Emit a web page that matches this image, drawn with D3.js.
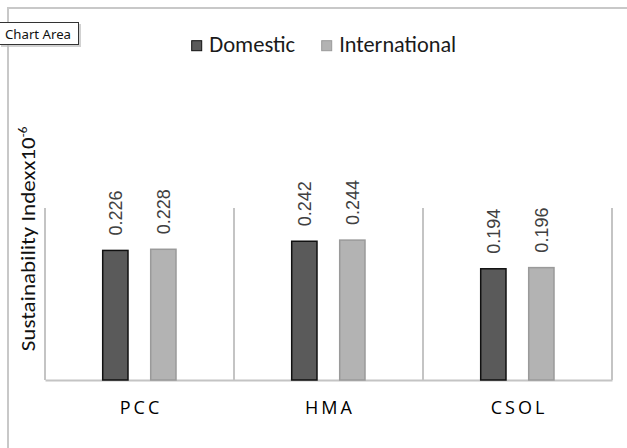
<!DOCTYPE html>
<html>
<head>
<meta charset="utf-8">
<script src="https://cdn.jsdelivr.net/npm/d3@7"></script>
<style>
  html, body { margin: 0; padding: 0; background: #fff; }
  svg { display: block; }
</style>
</head>
<body>
<svg id="chart" width="627" height="448"></svg>
<script>
// Sustainability index by process and market
const categories = ["PCC", "HMA", "CSOL"];
const series = ["Domestic", "International"];
const domesticValues = [0.226, 0.242, 0.194];
const internationalValues = [0.228, 0.244, 0.196];
const yDomain = [0, 0.3];

const seriesValues = { Domestic: domesticValues, International: internationalValues };
const fills = { Domestic: "#5a5a5a", International: "#b3b3b3" };
const strokes = { Domestic: "#111", International: "#9a9a9a" };

const W = 627, H = 448;
const plot = { left: 45, right: 612, top: 208, bottom: 380 };
const uiFont = "Carlito, Lato, 'Open Sans', sans-serif";

const svg = d3.select("#chart");
svg.append("rect").attr("width", W).attr("height", H).attr("fill", "#fff");

// chart area frame
svg.append("path")
  .attr("d", `M8,${H} V8 H${W}`)
  .attr("fill", "none").attr("stroke", "#c8c8c8").attr("stroke-width", 2);

const x = d3.scaleBand().domain(categories).range([plot.left, plot.right]).padding(0);
const xInner = d3.scaleBand().domain(series)
  .range([57.7, 131]).paddingInner(0.473).paddingOuter(0);
const y = d3.scaleLinear().domain(yDomain).range([plot.bottom, plot.top]);

// category separators
const bounds = categories.map(c => x(c)).concat([plot.right]);
svg.append("g").selectAll("line").data(bounds).join("line")
  .attr("x1", d => d).attr("x2", d => d)
  .attr("y1", y(yDomain[1])).attr("y2", y(0))
  .attr("stroke", "#c4c4c4").attr("stroke-width", 2);

// baseline axis
const xAxis = svg.append("g").attr("transform", `translate(0,${y(0)})`)
  .call(d3.axisBottom(x).tickSize(0).tickFormat(""));
xAxis.select(".domain").attr("stroke", "#c4c4c4").attr("stroke-width", 2);

// bars
const rows = [];
categories.forEach((c, i) => series.forEach(s => rows.push({ c, s, v: seriesValues[s][i] })));

svg.append("g").selectAll("rect").data(rows).join("rect")
  .attr("x", d => x(d.c) + xInner(d.s))
  .attr("y", d => y(d.v))
  .attr("width", xInner.bandwidth())
  .attr("height", d => y(0) - y(d.v))
  .attr("fill", d => fills[d.s])
  .attr("stroke", d => strokes[d.s])
  .attr("stroke-width", 1.5);

// value labels
svg.append("g").selectAll("text").data(rows).join("text")
  .attr("transform", d => `translate(${x(d.c) + xInner(d.s) + xInner.bandwidth() / 2},${y(d.v) - 15}) rotate(-90)`)
  .attr("dy", "0.36em")
  .attr("font-family", "'Liberation Sans', Arial, sans-serif")
  .attr("font-size", 18)
  .attr("fill", "#404040")
  .text(d => d.v.toFixed(3));

// category labels
svg.append("g").selectAll("text").data(categories).join("text")
  .attr("x", d => x(d) + x.bandwidth() / 2 + 1.5)
  .attr("y", 413.5)
  .attr("text-anchor", "middle")
  .attr("font-family", "'Open Sans', sans-serif")
  .attr("font-size", 18)
  .attr("font-weight", 500)
  .attr("letter-spacing", 3)
  .attr("fill", "#000")
  .text(d => d);

// y axis title
const yTitle = svg.append("text")
  .attr("transform", "translate(35,239) rotate(-90)")
  .attr("text-anchor", "middle")
  .attr("font-family", uiFont)
  .attr("font-size", 21)
  .attr("fill", "#111");
yTitle.append("tspan").attr("textLength", 214).attr("lengthAdjust", "spacingAndGlyphs")
  .text("Sustainability Indexx10");
yTitle.append("tspan").attr("font-size", 13).attr("dy", -8).text("-6");

// legend
const legendPos = { Domestic: 191.7, International: 321.7 };
const legendWidths = { Domestic: 86, International: 117 };
const legend = svg.append("g").selectAll("g").data(series).join("g")
  .attr("transform", d => `translate(${legendPos[d]},40.7)`);
legend.append("rect").attr("width", 10).attr("height", 10)
  .attr("fill", d => fills[d]).attr("stroke", d => strokes[d]).attr("stroke-width", 1);
legend.append("text")
  .attr("x", 17.5).attr("y", 11.6)
  .attr("font-family", uiFont)
  .attr("font-size", 22)
  .attr("fill", "#1a1a1a")
  .attr("textLength", d => legendWidths[d])
  .attr("lengthAdjust", "spacingAndGlyphs")
  .text(d => d);

// hover tag
const tag = svg.append("g");
tag.append("rect").attr("x", 1).attr("y", 24).attr("width", 80).attr("height", 23)
  .attr("fill", "#bdbdbd").attr("opacity", 0.7);
tag.append("rect").attr("x", -1).attr("y", 22.5).attr("width", 79.5).attr("height", 22)
  .attr("fill", "#fff").attr("stroke", "#333").attr("stroke-width", 1);
tag.append("text").attr("x", 5).attr("y", 39)
  .attr("font-family", "'Noto Sans', 'DejaVu Sans', sans-serif")
  .attr("font-size", 13).attr("fill", "#111")
  .attr("textLength", 66).attr("lengthAdjust", "spacingAndGlyphs")
  .text("Chart Area");
</script>
</body>
</html>
